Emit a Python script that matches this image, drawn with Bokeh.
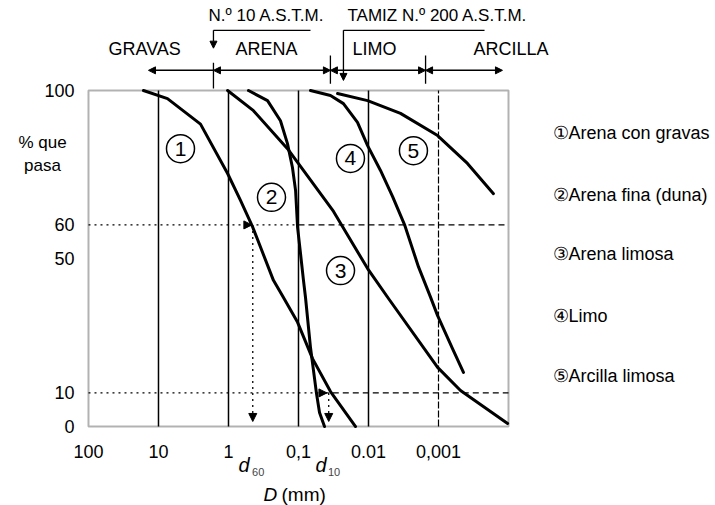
import numpy as np
from bokeh.plotting import figure
from bokeh.models import (Range1d, FixedTicker, Label, Arrow, NormalHead, ColumnDataSource,
                          BoxAnnotation)
from bokeh.embed import file_html
from bokeh.resources import INLINE
from bokeh.core.properties import value

# ---------------- data ----------------
# D in mm, P = % que pasa
d_1 = [16.4, 7.44, 2.51, 1.03, 0.674, 0.454, 0.228, 0.164, 0.103, 0.063, 0.0349, 0.0153]
p_1 = [100, 97.6, 90, 75.3, 67.3, 59.5, 43.5, 38.4, 31, 20.2, 10.4, 0]

d_2 = [0.518, 0.277, 0.181, 0.1437, 0.122, 0.110, 0.103, 0.0936, 0.0849, 0.0794, 0.0674, 0.0611, 0.0553, 0.0501, 0.0425]
p_2 = [100, 97, 91, 84.2, 77.1, 70.2, 59.2, 51.5, 43.5, 38.4, 23.5, 16.7, 9.8, 4.2, 0]

d_3 = [1.03, 0.44, 0.1437, 0.0316, 0.0103, 0.00518, 0.00103, 0.000485, 0.000103]
p_3 = [100, 94, 82.7, 64, 47, 38.1, 17.6, 10.7, 0.9]

d_4 = [0.0674, 0.0349, 0.0228, 0.01436, 0.0103, 0.00674, 0.00454, 0.00306, 0.00193, 0.0013, 0.00103, 0.000631, 0.00044]
p_4 = [100, 98.5, 96.1, 90.5, 83.6, 76.2, 68.5, 60.1, 47.5, 38.5, 33, 23.2, 16.1]

d_5 = [0.0277, 0.0103, 0.00349, 0.00103, 0.000386, 0.000164]
p_5 = [99.1, 97, 93.2, 86.6, 78.3, 69.3]

curve_numbers = ["1", "2", "3", "4", "5"]
legend_names = ["\u2460Arena con gravas", "\u2461Arena fina (duna)", "\u2462Arena limosa",
                "\u2463Limo", "\u2464Arcilla limosa"]

x_ticks = [100, 10, 1, 0.1, 0.01, 0.001]
x_tick_labels = ["100", "10", "1", "0,1", "0.01", "0,001"]
x_edge = 1e-4
y_ticks = [0, 10, 50, 60, 100]

zone_names = ["GRAVAS", "ARENA", "LIMO", "ARCILLA"]
zone_bounds = [13.9, 1.64, 0.035, 0.00153, 0.000122]   # mm
sieve_10 = 1.64      # N.º 10 A.S.T.M.
sieve_200 = 0.0228   # TAMIZ N.º 200 A.S.T.M.
d60 = 0.45
d10 = 0.037

# ---------------- figure ----------------
FONT = "Liberation Sans"
INK = "black"

# the frame fills the whole canvas; axes are placed at fixed data locations
p = figure(width=715, height=505, x_axis_type="log",
           x_range=Range1d(1807, 1.104e-7), y_range=Range1d(-23.51, 126.79),
           output_backend="svg", toolbar_location=None, min_border=0)
p.background_fill_color = "white"
p.border_fill_color = "white"
p.outline_line_color = None
p.xgrid.grid_line_color = None
p.ygrid.grid_line_color = None

for ax in (p.xaxis, p.yaxis):
    ax.axis_line_color = None
    ax.major_tick_line_color = None
    ax.minor_tick_line_color = None
    ax.major_label_text_font = FONT
    ax.major_label_text_font_size = "18px"
    ax.major_label_text_color = INK

p.xaxis.fixed_location = 0
p.xaxis.ticker = FixedTicker(ticks=x_ticks, minor_ticks=[])
p.xaxis.major_label_overrides = {t: l for t, l in zip(x_ticks, x_tick_labels)}
p.xaxis.major_label_standoff = 12
p.yaxis.fixed_location = 100
p.yaxis.ticker = FixedTicker(ticks=y_ticks, minor_ticks=[])
p.yaxis.major_label_standoff = 8

# plot box
p.add_layout(BoxAnnotation(left=x_ticks[0], right=x_edge, bottom=0, top=100,
                           fill_alpha=0, line_color=INK, line_width=2))

# vertical decade lines
for t in x_ticks[1:5]:
    p.line([t, t], [0, 100], line_color=INK, line_width=1.5)
p.line([x_ticks[5]] * 2, [0, 100], line_color=INK, line_width=1.2, line_dash="7 2")

# 60 % and 10 % reference lines
p.line([100, 0.1], [60, 60], line_color=INK, line_width=1.3, line_dash="2 4")
p.line([0.1, x_edge], [60, 60], line_color=INK, line_width=1.3, line_dash="6 4")
p.line([100, 0.045], [10, 10], line_color=INK, line_width=1.3, line_dash="2 4")
p.line([0.045, x_edge], [10, 10], line_color=INK, line_width=1.3, line_dash="6 4")

# d60 / d10 construction arrows
head = dict(size=8, fill_color=INK, line_color=INK)
p.add_layout(Arrow(x_start=d60, y_start=60, x_end=d60, y_end=1.5, line_dash="2 4",
                   line_width=1.3, end=NormalHead(**head)))
p.add_layout(Arrow(x_start=0.7, y_start=60, x_end=d60 * 1.03, y_end=60, line_alpha=0,
                   end=NormalHead(**head)))
p.add_layout(Arrow(x_start=d10, y_start=10, x_end=d10, y_end=1.5, line_dash="2 4",
                   line_width=1.3, end=NormalHead(**head)))
p.add_layout(Arrow(x_start=0.06, y_start=10, x_end=d10 * 1.06, y_end=10, line_alpha=0,
                   end=NormalHead(**head)))

# curves
for d, pp in ((d_1, p_1), (d_2, p_2), (d_3, p_3), (d_4, p_4), (d_5, p_5)):
    p.line(d, pp, line_color=INK, line_width=3, line_cap="round", line_join="round")

# circled numbers on the curves
lab_src = ColumnDataSource(dict(x=[4.85, 0.243, 0.0251, 0.0181, 0.00228],
                                y=[82.7, 68.2, 46.4, 79.8, 82.1], t=curve_numbers))
p.scatter("x", "y", source=lab_src, marker="circle", size=28, fill_color=None,
          line_color=INK, line_width=1.5)
p.text("x", "y", text="t", source=lab_src, text_align="center", text_baseline="middle",
       text_font=value(FONT), text_font_size="21px", text_color=INK)

def label(x, y, text, size, align="left", style="normal", color=INK):
    p.add_layout(Label(x=x, y=y, text=text, text_font=FONT, text_font_size=size,
                       text_font_style=style, text_align=align, text_baseline="middle",
                       text_color=color))

# legend on the right
for name, yy in zip(legend_names, [87.5, 69.0, 51.2, 33.0, 14.9]):
    label(2.35e-5, yy, name, "18px")

# y title
label(454, 84.5, "% que", "17px", align="center")
label(454, 77.7, "pasa", "17px", align="center")

# x title and d labels
label(0.316, -20.2, "D", "19px", style="italic")
label(0.175, -20.2, "(mm)", "19px")
for dv, sub, sx in ((0.72, "60", 0.46), (0.0572, "10", 0.038)):
    label(dv, -11.6, "d", "20px", style="italic")
    label(sx, -13.6, sub, "11px", color="#444444")

# top: soil classes
for name, xx in zip(zone_names, [51.8, 0.794, 0.0169, 3.16e-4]):
    label(xx, 112.5, name, "18px")
p.add_layout(Arrow(x_start=zone_bounds[1], y_start=106, x_end=zone_bounds[0], y_end=106,
                   line_width=1.5, end=NormalHead(size=7, fill_color=INK)))
for a, b in zip(zone_bounds[1:-1], zone_bounds[2:]):
    p.add_layout(Arrow(x_start=a, y_start=106, x_end=b, y_end=106, line_width=1.5,
                       start=NormalHead(size=7, fill_color=INK),
                       end=NormalHead(size=7, fill_color=INK)))
for b, y0, y1 in ((zone_bounds[1], 100.6, 108.3), (zone_bounds[2], 102, 110.4),
                  (zone_bounds[3], 102, 110.4)):
    p.line([b, b], [y0, y1], line_color=INK, line_width=1.3)

# sieve brackets
label(1.93, 122.3, "N.º 10 A.S.T.M.", "17px")
label(0.01995, 122.3, "TAMIZ N.º 200 A.S.T.M.", "17px")
p.add_layout(Arrow(x_start=sieve_10, y_start=117.9, x_end=sieve_10, y_end=112.6, line_width=1.3,
                   end=NormalHead(size=7, fill_color=INK)))
p.line([sieve_10, 0.0674], [117.9, 117.9], line_color=INK, line_width=1.3)
p.add_layout(Arrow(x_start=sieve_200, y_start=117.9, x_end=sieve_200, y_end=103, line_width=1.3,
                   end=NormalHead(size=7, fill_color=INK)))
p.line([sieve_200, 0.00022], [117.9, 117.9], line_color=INK, line_width=1.3)

open("out.html", "w").write(file_html(p, INLINE))
